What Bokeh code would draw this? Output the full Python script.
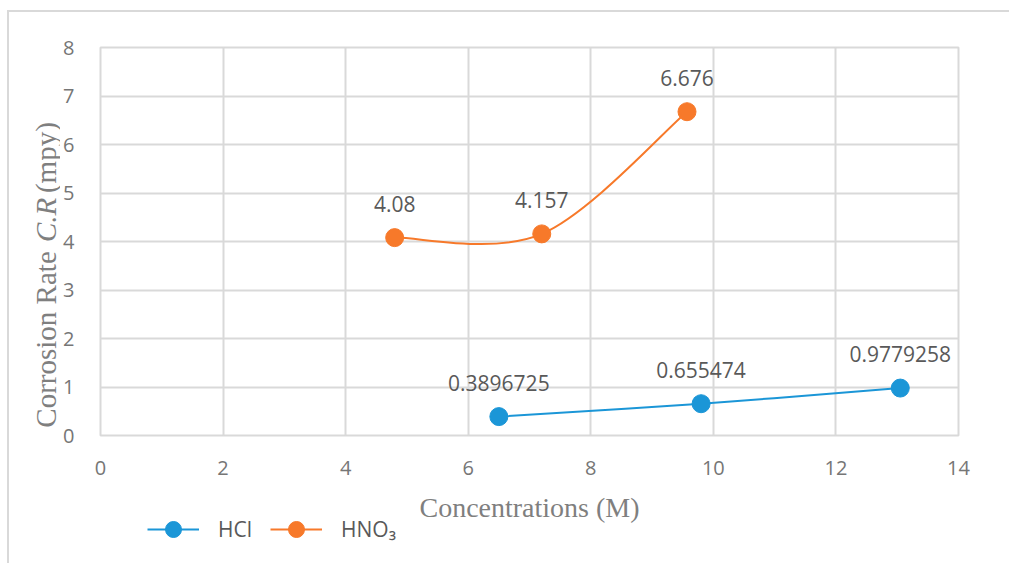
import numpy as np
from bokeh.plotting import figure
from bokeh.layouts import row, column
from bokeh.models import ColumnDataSource, LabelSet, Legend, LegendItem
from bokeh.core.properties import value
from bokeh.embed import file_html
from bokeh.resources import INLINE

# ---- data ----
hcl_x = [6.5, 9.8, 13.05]
hcl_y = [0.3896725, 0.655474, 0.9779258]
hno3_x = [4.8, 7.2, 9.57]
hno3_y = [4.08, 4.157, 6.676]
x_ticks = [0, 2, 4, 6, 8, 10, 12, 14]
y_ticks = [0, 1, 2, 3, 4, 5, 6, 7, 8]
series_names = ["HCl", "HNO\u2083"]
x_title = "Concentrations (M)"
y_title_parts = ["Corrosion Rate", "C.R", "(mpy)"]

BLUE = "#1b96d7"
ORANGE = "#f7792a"
GRID = "#d9d9d9"
TITLE_C = "#7f7f7f"

# ---- page geometry (px) ----
OFF_X, OFF_Y = 9, 12           # layout offset on page (margin + border)
SPLIT_X = 60                   # page x where the main chart begins
SPLIT_Y = 490                  # page y where the bottom strip begins
FR_L, FR_R, FR_T, FR_B = 100, 958, 47, 435  # plot frame on page
TOP_H = SPLIT_Y - OFF_Y
BOT_H = 563 - SPLIT_Y


def strip(width, height):
    f = figure(width=width, height=height, x_range=(0, width), y_range=(0, height),
               output_backend="svg", toolbar_location=None,
               x_axis_location=None, y_axis_location=None,
               min_border_left=0, min_border_right=0, min_border_top=0, min_border_bottom=0)
    f.grid.visible = False
    f.outline_line_color = None
    f.background_fill_color = "white"
    f.border_fill_color = "white"
    return f


# ---- left strip: y-axis title with italic C.R (each piece anchored at its top end) ----
t = strip(SPLIT_X - OFF_X, TOP_H)
FS = 29
# page-y of the top end of each piece (rotated text reads bottom -> top)
ends = [263, 197, 104]
styles = ["normal", "italic", "normal"]
for txt, end, st in zip(y_title_parts, ends, styles):
    t.text(x=[45 - OFF_X], y=[TOP_H - (end - OFF_Y)], text=[txt], angle=np.pi / 2,
           text_align="right", text_baseline="middle",
           text_font=value("Liberation Serif"), text_font_style=st,
           text_font_size=f"{FS}px", text_color=TITLE_C)

# ---- main chart ----
p = figure(width=1009 - SPLIT_X, height=TOP_H, x_range=(0, 14), y_range=(0, 8),
           output_backend="svg", toolbar_location=None,
           min_border_left=FR_L - SPLIT_X, min_border_right=1009 - FR_R,
           min_border_top=FR_T - OFF_Y, min_border_bottom=SPLIT_Y - FR_B)
p.outline_line_color = GRID
p.outline_line_width = 2
p.background_fill_color = "white"
p.border_fill_color = "white"

for ax in (p.xaxis[0], p.yaxis[0]):
    ax.axis_line_color = None
    ax.major_tick_line_color = None
    ax.minor_tick_line_color = None
    ax.major_label_text_font = "Open Sans"
    ax.major_label_text_font_size = "20px"
    ax.major_label_text_color = "#767676"
p.xaxis.ticker = x_ticks
p.yaxis.ticker = y_ticks
p.xaxis.major_label_standoff = 19
p.yaxis.major_label_standoff = 20
p.xgrid.ticker = x_ticks
p.ygrid.ticker = y_ticks
p.grid.grid_line_color = GRID
p.grid.grid_line_width = 2


def bezier_segments(xs, ys):
    """Smoothed line through the points (Catmull-Rom style control points)."""
    xs = np.asarray(xs, float); ys = np.asarray(ys, float)
    n = len(xs)
    d = dict(x0=[], y0=[], x1=[], y1=[], cx0=[], cy0=[], cx1=[], cy1=[])
    for i in range(n - 1):
        im = max(i - 1, 0); ip = min(i + 2, n - 1)
        d["x0"].append(xs[i]); d["y0"].append(ys[i])
        d["x1"].append(xs[i + 1]); d["y1"].append(ys[i + 1])
        d["cx0"].append(xs[i] + (xs[i + 1] - xs[im]) / 6)
        d["cy0"].append(ys[i] + (ys[i + 1] - ys[im]) / 6)
        d["cx1"].append(xs[i + 1] - (xs[ip] - xs[i]) / 6)
        d["cy1"].append(ys[i + 1] - (ys[ip] - ys[i]) / 6)
    return ColumnDataSource(d)


# ---- bottom strip: x-axis title and legend ----
b = strip(1009 - OFF_X, BOT_H)
b.text(x=[529 - OFF_X], y=[563 - 507], text=[x_title], text_align="center",
       text_baseline="middle", text_font=value("Liberation Serif"),
       text_font_size="28px", text_color=TITLE_C)

items = []
for xs, ys, col, name in ((hcl_x, hcl_y, BLUE, series_names[0]),
                          (hno3_x, hno3_y, ORANGE, series_names[1])):
    p.bezier(x0="x0", y0="y0", x1="x1", y1="y1", cx0="cx0", cy0="cy0",
             cx1="cx1", cy1="cy1", source=bezier_segments(xs, ys),
             line_color=col, line_width=2)
    src = ColumnDataSource(dict(x=xs, y=ys, lab=[str(v) for v in ys]))
    p.scatter("x", "y", source=src, size=18, fill_color=col,
              line_color=col, line_width=1)
    p.add_layout(LabelSet(x="x", y="y", text="lab", source=src, y_offset=34,
                          text_align="center", text_baseline="middle",
                          text_font=value("Open Sans"), text_font_size="21px",
                          text_color="#595959"))
    # legend samples (same styling) held by hidden renderers in the bottom strip
    lr = b.line(x=xs, y=ys, line_color=col, line_width=2, visible=False)
    mr = b.scatter(x=xs, y=ys, size=18, fill_color=col, line_color=col, visible=False)
    items.append(LegendItem(label=name, renderers=[lr, mr]))

legend = Legend(items=items, orientation="horizontal",
                location=(147 - OFF_X, 563 - 549),
                glyph_width=52, glyph_height=40, label_standoff=19, spacing=18,
                padding=0, margin=0, border_line_color=None,
                background_fill_alpha=0,
                label_text_font="Open Sans", label_text_font_size="21px",
                label_text_color="#595959")
b.add_layout(legend, "center")

layout = column(row(t, p, spacing=0), b, spacing=0)
layout.styles = {"margin-left": "7px", "margin-top": "10px",
                 "border-left": "2px solid #d9d9d9", "border-top": "2px solid #d9d9d9"}

open("out.html", "w").write(file_html(layout, INLINE))
